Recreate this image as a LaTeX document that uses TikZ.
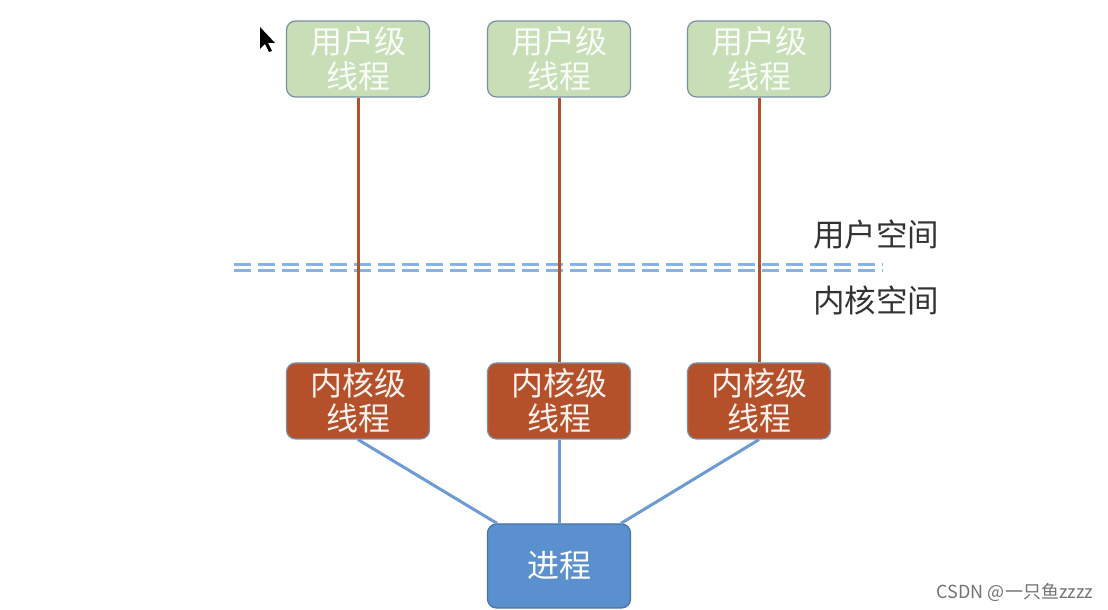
\documentclass[tikz,border=0pt]{standalone}
\usepackage{fontspec}
\newfontfamily\cjk{Noto Sans CJK SC}
\usetikzlibrary{positioning, arrows.meta}
\definecolor{ugreen}{HTML}{C8DEB6}
\definecolor{kbrown}{HTML}{B4512A}
\definecolor{pblue}{HTML}{5B90CE}
\definecolor{lblue}{HTML}{6B9BD2}
\definecolor{dblue}{HTML}{8AB2E0}
\definecolor{edgegray}{HTML}{7A90A8}
\tikzset{
  box/.style={rounded corners=9pt, draw=edgegray, line width=1.2pt, minimum width=143pt, minimum height=76pt, align=center, font=\cjk\fontsize{32}{35}\selectfont, inner sep=0pt},
  userbox/.style={box, fill=ugreen, text=white!90!ugreen},
  kernbox/.style={box, fill=kbrown, text=white!92!kbrown},
  procbox/.style={box, fill=pblue, draw=pblue!80!black, minimum height=84pt, text=white},
  uline/.style={kbrown, line width=3pt},
  kline/.style={lblue, line width=3pt},
  sepline/.style={dblue, line width=3pt, dash pattern=on 17pt off 7pt},
  spacelbl/.style={font=\cjk\fontsize{31.5}{35}\selectfont, text=black!80}
}
\begin{document}
\begin{tikzpicture}[x=1pt, y=1pt, >=latex]
\useasboundingbox (0,0) rectangle (1108,610);
\fill[white] (0,0) rectangle (1108,610);

\node[userbox] (u1) at (358,551) {用户级\\线程};
\node[userbox] (u2) at (559,551) {用户级\\线程};
\node[userbox] (u3) at (759,551) {用户级\\线程};

\node[kernbox] (k1) at (358,209) {内核级\\线程};
\node[kernbox] (k2) at (559,209) {内核级\\线程};
\node[kernbox] (k3) at (759,209) {内核级\\线程};

\node[procbox] (proc) at (559,44) {进程};

% separator between the two spaces
\coordinate (sepl) at (234,345);
\coordinate (sepr) at (883,345);
\draw[sepline] (sepl) -- (sepr);
\draw[sepline] ([yshift=-6pt]sepl) -- ([yshift=-6pt]sepr);

\draw[uline] (u1) -- (k1);
\draw[uline] (u2) -- (k2);
\draw[uline] (u3) -- (k3);

\draw[kline] (k1.south) -- ([xshift=-62pt]proc.north);
\draw[kline] (k2.south) -- (proc.north);
\draw[kline] (k3.south) -- ([xshift=62pt]proc.north);

\node[spacelbl] (ulbl) at (876,375) {用户空间};
\node[spacelbl] (klbl) at (876,310) {内核空间};

% mouse pointer
\fill[black] (260,583) -- (260,561) -- (265,566) -- (269,558) -- (272,559) -- (268,567) -- (275,567) -- cycle;

\node[font=\cjk\fontsize{18}{20}\selectfont, text=black!55] (mark) at (1015,18) {CSDN @一只鱼zzzz};
\end{tikzpicture}
\end{document}
